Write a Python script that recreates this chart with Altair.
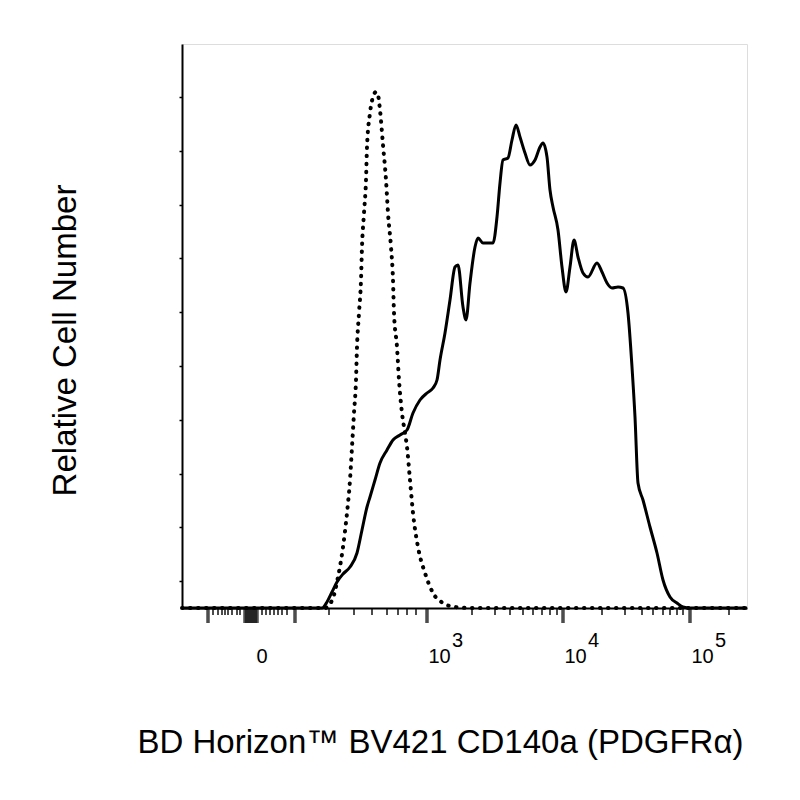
import altair as alt
import pandas as pd

# histogram traces
# x = display channel (0 = left edge of the plot), y = relative cell number
stained_x = [0, 140, 145, 150, 155, 161, 168, 175, 180, 185,
             188, 193, 198, 205, 211, 218, 225, 231, 238, 245,
             251, 255, 258, 263, 268, 273, 276, 281, 284, 288,
             293, 296, 301, 306, 311, 315, 318, 321, 326, 330,
             334, 338, 343, 348, 353, 358, 361, 365, 368, 371,
             376, 380, 384, 388, 392, 396, 401, 406, 415, 420,
             425, 430, 436, 441, 446, 450, 453, 456, 461, 468,
             475, 481, 488, 495, 501, 508, 565]
stained_y = [0, 0, 6, 16, 26, 34, 41, 55, 78, 101,
             111, 128, 145, 158, 168, 173, 178, 195, 208, 215,
             220, 228, 248, 275, 308, 341, 343, 301, 288, 325,
             361, 370, 365, 365, 365, 391, 425, 448, 450, 468,
             483, 471, 455, 443, 448, 461, 465, 451, 418, 401,
             378, 341, 316, 341, 368, 351, 335, 331, 345, 336,
             325, 320, 321, 320, 295, 241, 191, 125, 108, 81,
             55, 28, 11, 5, 1, 0, 0]

isotype_x = [0, 143, 151, 155, 161, 165, 168, 170, 172, 174,
             175, 177, 179, 180, 182, 184, 185, 188, 191, 194,
             196, 198, 201, 204, 206, 209, 211, 212, 215, 217,
             220, 223, 225, 228, 231, 236, 243, 251, 261, 273,
             288, 565]
isotype_y = [0, 0, 10, 26, 61, 95, 128, 161, 195, 228,
             261, 295, 328, 361, 395, 428, 461, 495, 511, 516,
             513, 498, 463, 428, 395, 361, 328, 295, 261, 228,
             195, 175, 161, 128, 95, 61, 35, 15, 5, 1,
             0, 0]

# bottom axis ticks (display channel)
tick_major = [26, 63, 65, 67, 69, 71, 73, 75, 113, 245, 381, 508]
tick_minor = [31, 36, 40, 43, 46, 50, 55, 58,
              80, 84, 88, 92, 96, 100, 105,
              147, 172, 190, 205, 216, 225, 234,
              290, 313, 328, 341, 351, 360, 368, 375,
              420, 443, 460, 471, 481, 488, 495, 501, 547]
label_pos = [73, 245, 381, 508]
label_text = ["0", "10", "10", "10"]
exp_pos = [245, 381, 508]
exp_text = ["3", "4", "5"]

y_ticks = [27, 54, 81, 108, 134, 161, 188, 215, 242, 269,
           296, 323, 350, 377, 403, 430, 457, 484, 511, 538]

FONT = "Liberation Sans"

stained = pd.DataFrame({"ch": stained_x, "count": stained_y})
isotype = pd.DataFrame({"ch": isotype_x, "count": isotype_y})
exps = pd.DataFrame({"ch": exp_pos, "txt": exp_text})
majors = pd.DataFrame({"ch": tick_major})
minors = pd.DataFrame({"ch": tick_minor})

label_expr = " : ".join(f"datum.value == {p} ? '{t}'" for p, t in zip(label_pos, label_text)) + " : ''"

x_scale = alt.Scale(domain=[0, 565], nice=False, zero=False)
y_scale = alt.Scale(domain=[0, 564], nice=False)

x_axis = alt.Axis(
    values=label_pos,
    labelExpr=label_expr,
    labelAlign="left",
    labelBaseline="alphabetic",
    labelOffset=1,
    labelPadding=54,
    labelFontSize=20,
    labelFont=FONT,
    labelColor="black",
    labelOverlap=False,
    labelFlush=False,
    labelBound=False,
    ticks=False,
    domainColor="black",
    domainWidth=2,
    grid=False,
    title="BD Horizon™ BV421 CD140a (PDGFRα)",
    titleFont=FONT,
    titleFontSize=33,
    titleFontWeight="normal",
    titleColor="black",
    titleX=258,
    titleY=144,
    titleAlign="center",
    titleBaseline="alphabetic",
)

y_axis = alt.Axis(
    values=y_ticks,
    labels=False,
    tickSize=3,
    tickWidth=1.5,
    tickColor="black",
    domainColor="black",
    domainWidth=2,
    grid=False,
    title="Relative Cell Number",
    titleFont=FONT,
    titleFontSize=33,
    titleFontWeight="normal",
    titleColor="black",
    titleAngle=-90,
    titleX=-107,
    titleY=296,
    titleAlign="center",
    titleBaseline="alphabetic",
)

solid = alt.Chart(stained).mark_line(
    color="black", strokeWidth=3, interpolate="monotone"
).encode(
    x=alt.X("ch:Q", scale=x_scale, axis=x_axis),
    y=alt.Y("count:Q", scale=y_scale, axis=y_axis),
)

dotted = alt.Chart(isotype).mark_line(
    color="black", strokeWidth=4, strokeDash=[0.5, 7.5], strokeCap="round",
    interpolate="monotone"
).encode(
    x=alt.X("ch:Q", scale=x_scale),
    y=alt.Y("count:Q", scale=y_scale),
)

# tick marks hanging below the baseline
major_ticks = alt.Chart(majors).mark_tick(
    orient="vertical", size=15, thickness=3.5, color="black", yOffset=7.5
).encode(
    x=alt.X("ch:Q", scale=x_scale),
    y=alt.YDatum(0, scale=y_scale),
)
minor_ticks = alt.Chart(minors).mark_tick(
    orient="vertical", size=7, thickness=2, color="black", yOffset=3.5
).encode(
    x=alt.X("ch:Q", scale=x_scale),
    y=alt.YDatum(0, scale=y_scale),
)

exponents = alt.Chart(exps).mark_text(
    align="left", baseline="alphabetic", dx=25, dy=39,
    font=FONT, fontSize=20, color="black"
).encode(
    x=alt.X("ch:Q", scale=x_scale),
    y=alt.YDatum(0, scale=y_scale),
    text="txt:N",
)

chart = alt.layer(dotted, solid, major_ticks, minor_ticks, exponents).properties(
    width=565,
    height=564,
    autosize=alt.AutoSizeParams(type="none"),
    padding={"left": 174, "top": 36, "right": 37, "bottom": 200},
).configure_view(
    stroke="black", strokeWidth=2
).configure(background="white")

chart.save("out.html", embed_options={"renderer": "svg", "actions": False})
